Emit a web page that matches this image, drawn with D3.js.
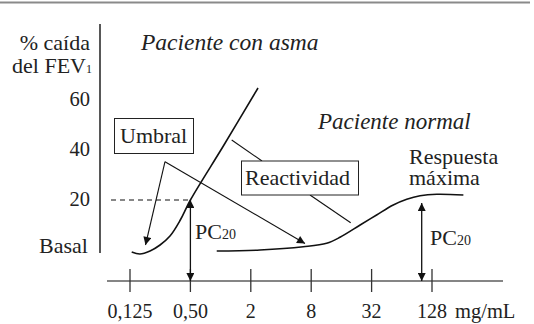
<!DOCTYPE html>
<html>
<head>
<meta charset="utf-8">
<script src="https://cdn.jsdelivr.net/npm/d3@7"></script>
<style>
    body { margin: 0; background: #fff; }
    svg text { font-family: "Liberation Serif", "Times New Roman", serif; fill: #222; }
</style>
</head>
<body>
<div id="chart"></div>
<script>
// concentration ticks (mg/mL) and their labels
var xTicks = [0.125, 0.5, 2, 8, 32, 128];
var xTickLabels = ["0,125", "0,50", "2", "8", "32", "128"];
var yTicks = [20, 40, 60];

// asthma patient: concentration vs % fall of FEV1
var asthmaConc = [0.130, 0.157, 0.198, 0.249, 0.313, 0.394, 0.5, 1.08, 2.36];
var asthmaFall = [-0.8, -1.6, -0.4, 2, 5.6, 11.8, 20, 42, 64.8];

// normal patient
var normalConc = [0.915, 2.47, 6.67, 11.4, 15.5, 24.6, 35.9, 52.6, 71.7, 97.4, 143, 263];
var normalFall = [-0.4, 0, 1.3, 2.7, 5.1, 10, 14, 18, 20.3, 21.7, 22.3, 22];

window.onload = init;

function init() {
    var w = 534;
    var h = 324;

    var svg = d3.select("#chart")
                .append("svg")
                .attr("width", w)
                .attr("height", h);

    var x = d3.scaleLog().base(4).domain([0.125, 128]).range([130, 432]);
    var y = d3.scaleLinear().domain([0, 60]).range([250, 100]);
    var axisY = 281;

    // arrowhead marker
    svg.append("defs").append("marker")
        .attr("id", "arrow")
        .attr("viewBox", "0 0 10 10")
        .attr("refX", 10)
        .attr("refY", 5)
        .attr("markerUnits", "userSpaceOnUse")
        .attr("markerWidth", 11)
        .attr("markerHeight", 8)
        .attr("orient", "auto-start-reverse")
        .append("path")
        .attr("d", "M0,0 L10,5 L0,10 Z")
        .attr("fill", "#111");

    // top rule
    svg.append("line")
        .attr("x1", 0).attr("x2", 530)
        .attr("y1", 2.5).attr("y2", 2.5)
        .attr("stroke", "#8a8a8a")
        .attr("stroke-width", 2);

    // y axis
    svg.append("line")
        .attr("x1", 100).attr("x2", 100)
        .attr("y1", 24).attr("y2", 253)
        .attr("stroke", "#111")
        .attr("stroke-width", 1.4);

    // x axis
    svg.append("line")
        .attr("x1", 107).attr("x2", 503)
        .attr("y1", axisY).attr("y2", axisY)
        .attr("stroke", "#858585")
        .attr("stroke-width", 1.8);

    svg.selectAll("line.xtick")
        .data(xTicks)
        .enter()
        .append("line")
        .attr("class", "xtick")
        .attr("x1", function(d) { return x(d); })
        .attr("x2", function(d) { return x(d); })
        .attr("y1", axisY - 12)
        .attr("y2", axisY + 11)
        .attr("stroke", "#333")
        .attr("stroke-width", 1.3);

    svg.selectAll("text.xlabel")
        .data(xTicks)
        .enter()
        .append("text")
        .attr("class", "xlabel")
        .attr("x", function(d) { return x(d); })
        .attr("y", 318)
        .attr("text-anchor", "middle")
        .attr("font-size", 20)
        .text(function(d, i) { return xTickLabels[i]; });

    svg.append("text")
        .attr("x", 455).attr("y", 318)
        .attr("font-size", 20.5)
        .text("mg/mL");

    // y labels
    svg.selectAll("text.ylabel")
        .data(yTicks)
        .enter()
        .append("text")
        .attr("class", "ylabel")
        .attr("x", 90)
        .attr("y", function(d) { return y(d) + 5.5; })
        .attr("text-anchor", "end")
        .attr("font-size", 20.5)
        .text(function(d) { return d; });

    svg.append("text")
        .attr("x", 88).attr("y", y(0) + 3)
        .attr("text-anchor", "end")
        .attr("font-size", 22)
        .text("Basal");

    svg.append("text")
        .attr("x", 90).attr("y", 50)
        .attr("text-anchor", "end")
        .attr("font-size", 22)
        .text("% caída");

    var fev = svg.append("text")
        .attr("x", 92).attr("y", 73)
        .attr("text-anchor", "end")
        .attr("font-size", 22);
    fev.append("tspan").text("del FEV");
    fev.append("tspan").attr("font-size", 12).text("1");

    // curves
    var line = d3.line()
        .x(function(d) { return x(d[0]); })
        .y(function(d) { return y(d[1]); })
        .curve(d3.curveCatmullRom.alpha(0.5));

    svg.append("path")
        .datum(d3.zip(asthmaConc, asthmaFall))
        .attr("d", line)
        .attr("fill", "none")
        .attr("stroke", "#111")
        .attr("stroke-width", 1.6);

    svg.append("path")
        .datum(d3.zip(normalConc, normalFall))
        .attr("d", line)
        .attr("fill", "none")
        .attr("stroke", "#111")
        .attr("stroke-width", 1.6);

    // dashed line at 20%
    svg.append("line")
        .attr("x1", 111).attr("x2", x(0.5))
        .attr("y1", y(20)).attr("y2", y(20))
        .attr("stroke", "#111")
        .attr("stroke-width", 1.2)
        .attr("stroke-dasharray", "5,4");

    // PC20 arrows
    svg.append("line")
        .attr("x1", x(0.5)).attr("x2", x(0.5))
        .attr("y1", y(20)).attr("y2", axisY)
        .attr("stroke", "#111")
        .attr("stroke-width", 1.3)
        .attr("marker-start", "url(#arrow)")
        .attr("marker-end", "url(#arrow)");

    svg.append("line")
        .attr("x1", 421.7).attr("x2", 421.7)
        .attr("y1", 203).attr("y2", axisY)
        .attr("stroke", "#111")
        .attr("stroke-width", 1.3)
        .attr("marker-start", "url(#arrow)")
        .attr("marker-end", "url(#arrow)");

    function pcLabel(px, py) {
        var t = svg.append("text")
            .attr("x", px).attr("y", py)
            .attr("font-size", 22);
        t.append("tspan").text("PC");
        t.append("tspan").attr("font-size", 14).text("20");
    }
    pcLabel(195, 239);
    pcLabel(430, 245);

    // Umbral box and pointers
    svg.append("rect")
        .attr("x", 114.5).attr("y", 118.5)
        .attr("width", 79).attr("height", 35)
        .attr("fill", "#fff")
        .attr("stroke", "#222")
        .attr("stroke-width", 1);
    svg.append("text")
        .attr("x", 120).attr("y", 143)
        .attr("font-size", 22)
        .text("Umbral");

    svg.append("line")
        .attr("x1", 165).attr("y1", 161.7)
        .attr("x2", 145.5).attr("y2", 245)
        .attr("stroke", "#111")
        .attr("stroke-width", 1.1)
        .attr("marker-end", "url(#arrow)");
    svg.append("line")
        .attr("x1", 165).attr("y1", 161.7)
        .attr("x2", 305).attr("y2", 243.5)
        .attr("stroke", "#111")
        .attr("stroke-width", 1.1)
        .attr("marker-end", "url(#arrow)");

    // Reactividad box and pointers
    svg.append("line")
        .attr("x1", 231.7).attr("y1", 140)
        .attr("x2", 262).attr("y2", 161)
        .attr("stroke", "#111")
        .attr("stroke-width", 1.1);
    svg.append("line")
        .attr("x1", 310).attr("y1", 195)
        .attr("x2", 350.7).attr("y2", 222.7)
        .attr("stroke", "#111")
        .attr("stroke-width", 1.1);
    svg.append("rect")
        .attr("x", 241.5).attr("y", 161)
        .attr("width", 117).attr("height", 34)
        .attr("fill", "#fff")
        .attr("stroke", "#222")
        .attr("stroke-width", 1);
    svg.append("text")
        .attr("x", 245).attr("y", 185)
        .attr("font-size", 22)
        .text("Reactividad");

    // titles
    svg.append("text")
        .attr("x", 141).attr("y", 50)
        .attr("font-size", 23.5)
        .attr("font-style", "italic")
        .text("Paciente con asma");
    svg.append("text")
        .attr("x", 318).attr("y", 129)
        .attr("font-size", 23)
        .attr("font-style", "italic")
        .text("Paciente normal");

    svg.append("text")
        .attr("x", 409).attr("y", 164)
        .attr("font-size", 22)
        .text("Respuesta");
    svg.append("text")
        .attr("x", 409).attr("y", 185)
        .attr("font-size", 22)
        .text("máxima");
}
</script>
</body>
</html>
